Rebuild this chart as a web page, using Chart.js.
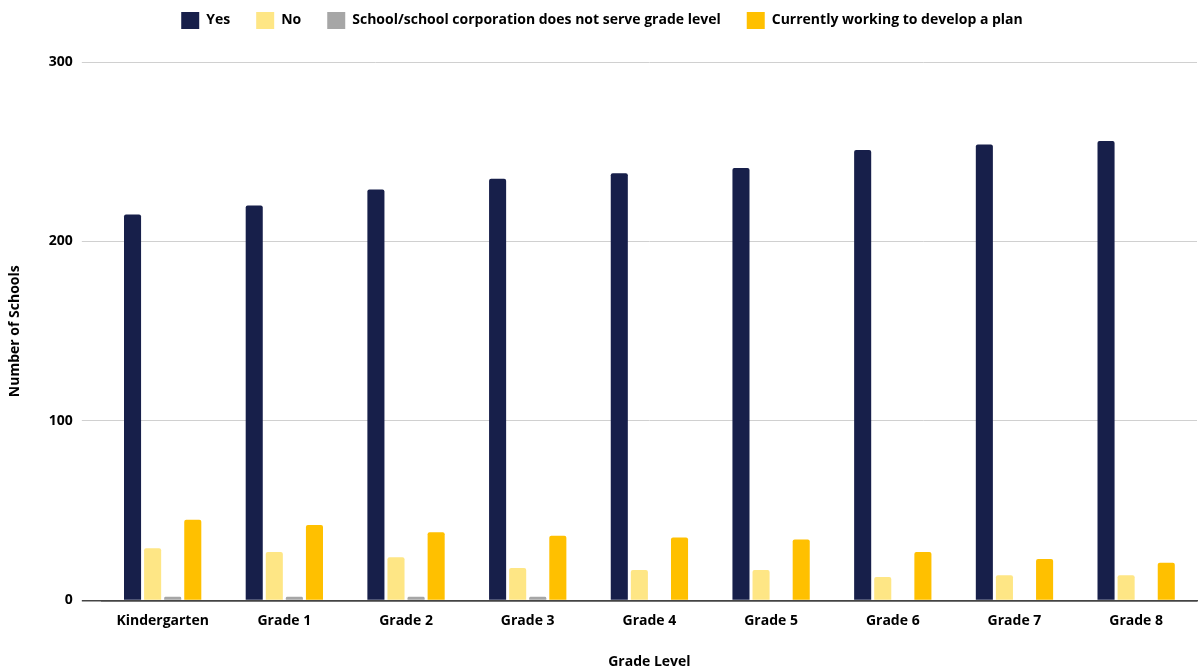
<!DOCTYPE html>
<html>
<head>
<meta charset="utf-8">
<script src="https://cdn.jsdelivr.net/npm/chart.js@4/dist/chart.umd.min.js"></script>
<style>
  html, body { margin: 0; padding: 0; background: #fff; }
  #wrap { width: 1199px; height: 667px; }
</style>
</head>
<body>
<div id="wrap"><canvas id="gradeChart"></canvas></div>
<script>
// datos
const grades = ['Kindergarten', 'Grade 1', 'Grade 2', 'Grade 3', 'Grade 4', 'Grade 5', 'Grade 6', 'Grade 7', 'Grade 8'];
const yesValues = [215, 220, 229, 235, 238, 241, 251, 254, 256];
const noValues = [29, 27, 24, 18, 17, 17, 13, 14, 14];
const notServedValues = [2, 2, 2, 2, 0, 0, 0, 0, 0];
const planValues = [45, 42, 38, 36, 35, 34, 27, 23, 21];
const yTicks = [0, 100, 200, 300];

const labelFont = { family: 'Open Sans', weight: 'bold', size: 14 };

function makeSet(label, data, color) {
    return {
        label: label,
        data: data,
        backgroundColor: color,
        borderRadius: { topLeft: 2, topRight: 2 },
        borderSkipped: 'bottom',
        categoryPercentage: 0.66,
        barPercentage: 0.85
    };
}

// espacio extra debajo de la leyenda
const legendGap = {
    id: 'legendGap',
    beforeInit(chart) {
        const fit = chart.legend.fit;
        chart.legend.fit = function () {
            fit.bind(chart.legend)();
            this.height += 23;
        };
    }
};

new Chart(document.getElementById('gradeChart').getContext('2d'), {
    type: 'bar',
    data: {
        labels: grades,
        datasets: [
            makeSet('Yes', yesValues, '#171f4a'),
            makeSet('No', noValues, '#fee685'),
            makeSet('School/school corporation does not serve grade level', notServedValues, '#a6a6a6'),
            makeSet('Currently working to develop a plan', planValues, '#ffc000')
        ]
    },
    plugins: [legendGap],
    options: {
        responsive: true,
        maintainAspectRatio: false,
        animation: false,
        layout: { padding: { left: 7, right: 2, top: -14, bottom: -3 } },
        plugins: {
            tooltip: { enabled: false },
            legend: {
                position: 'top',
                labels: {
                    boxWidth: 18,
                    boxHeight: 17,
                    padding: 26,
                    color: '#000',
                    font: labelFont
                }
            }
        },
        scales: {
            x: {
                grid: { display: false },
                border: { color: '#444', width: 1.5 },
                ticks: { color: '#000', font: labelFont, padding: 4 },
                title: {
                    display: true,
                    text: 'Grade Level',
                    color: '#000',
                    font: labelFont,
                    padding: { top: 20, bottom: 0 }
                }
            },
            y: {
                min: 0,
                max: 300,
                afterBuildTicks: (axis) => { axis.ticks = yTicks.map(v => ({ value: v })); },
                grid: {
                    color: (c) => c.tick && c.tick.value === 0 ? '#444' : '#d0d0d0',
                    lineWidth: (c) => c.tick && c.tick.value === 0 ? 1.5 : 1,
                    tickLength: 20
                },
                border: { display: false },
                ticks: {
                    color: '#000',
                    padding: 9,
                    font: { family: 'Open Sans', weight: 'bold', size: 14 }
                },
                title: {
                    display: true,
                    text: 'Number of Schools',
                    color: '#000',
                    font: labelFont,
                    padding: { top: 0, bottom: 16 }
                }
            }
        }
    }
});
</script>
</body>
</html>
